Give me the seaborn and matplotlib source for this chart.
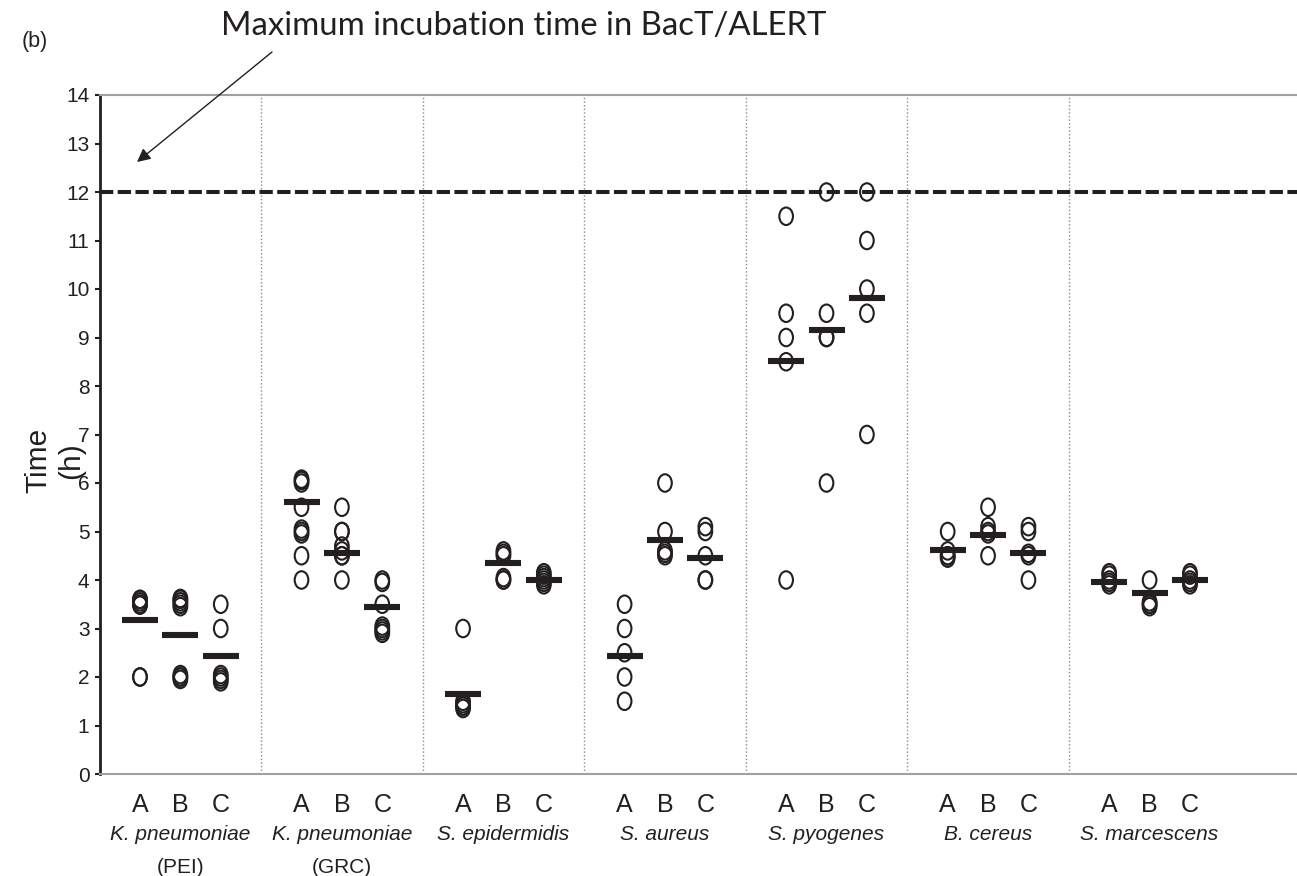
import numpy as np
import pandas as pd
import matplotlib
matplotlib.use("Agg")
import matplotlib.pyplot as plt
import seaborn as sns
from matplotlib.path import Path
from matplotlib.transforms import blended_transform_factory

# ---------------- data ----------------
species = ["K. pneumoniae", "K. pneumoniae", "S. epidermidis", "S. aureus",
           "S. pyogenes", "B. cereus", "S. marcescens"]
strains = ["(PEI)", "(GRC)", "", "", "", "", ""]
methods = ["A", "B", "C"]

kpn_pei_A = [3.6, 3.6, 3.55, 3.5, 3.5, 3.48, 2.0, 2.0]
kpn_pei_B = [3.62, 3.6, 3.55, 3.5, 3.45, 2.05, 2.0, 2.0, 1.95]
kpn_pei_C = [3.5, 3.0, 2.05, 2.0, 1.95, 1.9]
kpn_grc_A = [6.08, 6.05, 6.0, 5.5, 5.05, 5.0, 4.95, 4.5, 4.0]
kpn_grc_B = [5.5, 5.0, 5.0, 4.7, 4.6, 4.5, 4.5, 4.0]
kpn_grc_C = [4.0, 3.95, 3.5, 3.05, 3.0, 2.95, 2.9]
sepi_A = [3.0, 1.5, 1.45, 1.4, 1.4, 1.35]
sepi_B = [4.6, 4.55, 4.5, 4.05, 4.0, 4.0]
sepi_C = [4.15, 4.1, 4.05, 4.0, 3.95, 3.9]
saur_A = [3.5, 3.0, 2.5, 2.0, 1.5]
saur_B = [6.0, 5.0, 4.6, 4.55, 4.5]
saur_C = [5.1, 5.0, 4.5, 4.0, 4.0]
spyo_A = [11.5, 9.5, 9.0, 8.5, 4.0]
spyo_B = [12.0, 9.5, 9.0, 9.0, 6.0]
spyo_C = [12.0, 11.0, 10.0, 9.5, 7.0]
bcer_A = [5.0, 4.6, 4.5, 4.5, 4.45]
bcer_B = [5.5, 5.1, 5.0, 4.95, 4.5]
bcer_C = [5.1, 5.0, 4.55, 4.5, 4.0]
smar_A = [4.15, 4.1, 4.0, 3.95, 3.9]
smar_B = [4.0, 3.55, 3.5, 3.5, 3.45]
smar_C = [4.15, 4.1, 4.0, 3.95, 3.9]

# mean bars
mean_kpn_pei = [3.18, 2.86, 2.43]
mean_kpn_grc = [5.60, 4.56, 3.45]
mean_sepi = [1.64, 4.36, 3.99]
mean_saur = [2.44, 4.83, 4.46]
mean_spyo = [8.52, 9.15, 9.81]
mean_bcer = [4.62, 4.93, 4.56]
mean_smar = [3.95, 3.74, 3.99]

max_incubation = 12
yticks = list(range(0, 15))

# ---------------- assemble ----------------
points = [
    [kpn_pei_A, kpn_pei_B, kpn_pei_C],
    [kpn_grc_A, kpn_grc_B, kpn_grc_C],
    [sepi_A, sepi_B, sepi_C],
    [saur_A, saur_B, saur_C],
    [spyo_A, spyo_B, spyo_C],
    [bcer_A, bcer_B, bcer_C],
    [smar_A, smar_B, smar_C],
]
means = [mean_kpn_pei, mean_kpn_grc, mean_sepi, mean_saur,
         mean_spyo, mean_bcer, mean_smar]

order = []
for g in range(len(species)):
    order += [f"{g}{m}" for m in methods]
    if g < len(species) - 1:
        order.append(f"{g}_")   # empty spacer category

rows, mrows = [], []
for g in range(len(species)):
    for k, m in enumerate(methods):
        for v in points[g][k]:
            rows.append({"cat": f"{g}{m}", "time": v})
        mrows.append({"cat": f"{g}{m}", "mean": means[g][k]})
df = pd.DataFrame(rows)
mdf = pd.DataFrame(mrows)

# ---------------- style ----------------
sns.set_style("white")
plt.rcParams["font.family"] = ["Liberation Sans", "DejaVu Sans"]
ink = "#231f20"
grey = "#a0a0a0"

fig = plt.figure(figsize=(12.97, 8.76), dpi=100)
ax = fig.add_axes([100 / 1297, 1 - 774 / 876, 1197 / 1297, 679 / 876])

circ = Path.unit_circle()
ellipse = Path(circ.vertices * np.array([0.78, 1.0]), circ.codes)

sns.stripplot(data=df, x="cat", y="time", order=order, jitter=False,
              marker=ellipse, size=12.6, facecolor="none",
              edgecolor=ink, linewidth=1.5, color=ink, ax=ax, zorder=3)

sns.pointplot(data=mdf, x="cat", y="mean", order=order, errorbar=None,
              linestyle="none", marker="_", markersize=26,
              markeredgewidth=4.4, color=ink, ax=ax, zorder=4)

ax.axhline(max_incubation, color=ink, lw=2.9, dashes=(3.3, 1.1), zorder=2)

for g in range(len(species) - 1):
    ax.axvline(order.index(f"{g}_"), color="#8a8a8a", lw=1.0,
               ls=(0, (1, 1.6)), zorder=1)

ax.set_xlim(-0.99, 28.65)
ax.set_ylim(0, 14)
ax.set_yticks(yticks)
ax.set_yticklabels([str(t) for t in yticks])

tick_pos = [order.index(f"{g}{m}") for g in range(len(species)) for m in methods]
ax.set_xticks(tick_pos)
ax.set_xticklabels(methods * len(species))
ax.tick_params(axis="x", length=0, labelsize=18, pad=14, colors=ink)
ax.tick_params(axis="y", direction="out", length=3.6, width=1.5,
               color=ink, labelsize=15, pad=4, labelcolor=ink, left=True)
ax.set_xlabel("")

ax.spines["right"].set_visible(False)
ax.spines["top"].set_color(grey)
ax.spines["top"].set_linewidth(1.5)
ax.spines["bottom"].set_color(grey)
ax.spines["bottom"].set_linewidth(1.5)
ax.spines["left"].set_color(ink)
ax.spines["left"].set_linewidth(2)

ax.set_ylabel("Time\n(h)", fontsize=21.5, color=ink, rotation=90)
ax.yaxis.label.set_va("center")
ax.yaxis.set_label_coords(-0.038, 0.462)

trans = blended_transform_factory(ax.transData, ax.transAxes)
for g in range(len(species)):
    xc = order.index(f"{g}B")
    ax.text(xc, -0.089, species[g], transform=trans, ha="center",
            va="center", style="italic", fontsize=15, color=ink)
    if strains[g]:
        ax.text(xc, -0.138, strains[g], transform=trans, ha="center",
                va="center", fontsize=15, color=ink)

fig.text(524 / 1297, 1 - 26 / 876, "Maximum incubation time in BacT/ALERT",
         ha="center", va="center", fontsize=23.7, family="Lato", color=ink)
fig.text(35 / 1297, 1 - 42 / 876, "(b)", ha="center", va="center",
         fontsize=15.5, color=ink)

ax.annotate("", xy=(37 / 1197, (774 - 162) / 679), xycoords="axes fraction",
            xytext=(272 / 1297, 1 - 52 / 876), textcoords="figure fraction",
            arrowprops=dict(arrowstyle="-|>", color=ink, lw=1.0,
                            mutation_scale=20, shrinkA=0, shrinkB=0),
            annotation_clip=False)

fig.savefig("out.png", dpi=100)
